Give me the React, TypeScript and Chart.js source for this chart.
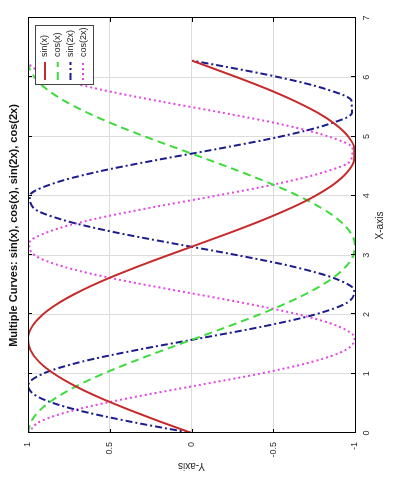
import React, { useEffect, useRef } from "react";
import { Chart, registerables } from "chart.js";

Chart.register(...registerables);

const TITLE = "Multiple Curves: sin(x), cos(x), sin(2x), cos(2x)";
const X_LABEL = "X-axis";
const Y_LABEL = "Y-axis";

const xValues = [
  0, 0.2, 0.4, 0.6, 0.8, 1.0, 1.2, 1.4, 1.6, 1.8, 2.0, 2.2, 2.4, 2.6, 2.8, 3.0,
  3.2, 3.4, 3.6, 3.8, 4.0, 4.2, 4.4, 4.6, 4.8, 5.0, 5.2, 5.4, 5.6, 5.8, 6.0, 6.2, 6.28,
];
const sinX = [
  0, 0.199, 0.389, 0.565, 0.717, 0.841, 0.932, 0.985, 1.0, 0.974, 0.909, 0.808, 0.675, 0.516, 0.335, 0.141,
  -0.058, -0.256, -0.443, -0.612, -0.757, -0.872, -0.952, -0.994, -0.996, -0.959, -0.883, -0.773, -0.631, -0.465, -0.279, -0.083, -0.003,
];
const cosX = [
  1, 0.98, 0.921, 0.825, 0.697, 0.54, 0.362, 0.17, -0.029, -0.227, -0.416, -0.589, -0.737, -0.857, -0.942, -0.99,
  -0.998, -0.967, -0.897, -0.791, -0.654, -0.49, -0.307, -0.112, 0.087, 0.284, 0.469, 0.635, 0.776, 0.886, 0.96, 0.997, 1.0,
];
const sin2X = [
  0, 0.389, 0.717, 0.932, 1.0, 0.909, 0.675, 0.335, -0.058, -0.443, -0.757, -0.952, -0.996, -0.883, -0.631, -0.279,
  0.117, 0.494, 0.794, 0.968, 0.989, 0.855, 0.585, 0.222, -0.175, -0.544, -0.828, -0.981, -0.979, -0.823, -0.537, -0.166, -0.006,
];
const cos2X = [
  1, 0.921, 0.697, 0.362, -0.029, -0.416, -0.737, -0.942, -0.998, -0.897, -0.654, -0.307, 0.087, 0.469, 0.776, 0.96,
  0.993, 0.869, 0.608, 0.251, -0.146, -0.519, -0.811, -0.975, -0.985, -0.839, -0.561, -0.194, 0.203, 0.567, 0.844, 0.986, 1.0,
];
const seriesLabels = ["sin(x)", "cos(x)", "sin(2x)", "cos(2x)"];
const seriesValues = [sinX, cosX, sin2X, cos2X];

const X_MIN = 0, X_MAX = 7, X_STEP = 1;
const Y_MIN = -1, Y_MAX = 1, Y_STEP = 0.5;

const W = 487;
const H = 393;
const FONT = "'Liberation Sans', Arial, Helvetica, sans-serif";

const lineStyles = [
  { color: "#c62a2a", dash: [] as number[], width: 2 },
  { color: "#3ddc3d", dash: [8, 5], width: 2 },
  { color: "#1c1c8c", dash: [7, 3, 2, 3], width: 2 },
  { color: "#e444e4", dash: [2, 3], width: 2 },
];

export default function App() {
  const ref = useRef<HTMLCanvasElement>(null);

  useEffect(() => {
    if (!ref.current) return;

    const framePlugin = {
      id: "frameAndLegend",
      afterDatasetsDraw(chart: any) {
        const ctx = chart.ctx;
        const a = chart.chartArea;
        const xs = chart.scales.x;
        const ys = chart.scales.y;
        ctx.save();
        ctx.strokeStyle = "#000";
        ctx.lineWidth = 1;
        ctx.setLineDash([]);
        ctx.beginPath();
        xs.ticks.forEach((t: any) => {
          const px = Math.round(xs.getPixelForValue(t.value)) + 0.5;
          ctx.moveTo(px, a.bottom);
          ctx.lineTo(px, a.bottom - 4);
          ctx.moveTo(px, a.top);
          ctx.lineTo(px, a.top + 4);
        });
        ys.ticks.forEach((t: any) => {
          const py = Math.round(ys.getPixelForValue(t.value)) + 0.5;
          ctx.moveTo(a.left, py);
          ctx.lineTo(a.left + 4, py);
          ctx.moveTo(a.right, py);
          ctx.lineTo(a.right - 4, py);
        });
        ctx.stroke();
        ctx.strokeRect(Math.round(a.left) + 0.5, Math.round(a.top) + 0.5, Math.round(a.right - a.left), Math.round(a.bottom - a.top));

        const bw = 59, bh = 58;
        const bx = Math.round(a.right) - 8 - bw;
        const by = Math.round(a.top) + 7;
        ctx.fillStyle = "#fff";
        ctx.fillRect(bx, by, bw, bh);
        ctx.strokeStyle = "#444";
        ctx.strokeRect(bx + 0.5, by + 0.5, bw, bh);
        ctx.font = `9px ${FONT}`;
        ctx.textBaseline = "middle";
        ctx.textAlign = "left";
        seriesLabels.forEach((lab, i) => {
          const cy = by + 10 + i * 12.7;
          const st = lineStyles[i];
          ctx.strokeStyle = st.color;
          ctx.lineWidth = st.width;
          ctx.setLineDash(st.dash);
          ctx.beginPath();
          ctx.moveTo(bx + 5, cy);
          ctx.lineTo(bx + 23, cy);
          ctx.stroke();
          ctx.fillStyle = "#222";
          ctx.fillText(lab, bx + 28, cy);
        });
        ctx.restore();
      },
    };

    const chart = new Chart(ref.current, {
      type: "line",
      data: {
        datasets: seriesValues.map((vals, i) => ({
          label: seriesLabels[i],
          data: xValues.map((x, j) => ({ x, y: vals[j] })),
          borderColor: lineStyles[i].color,
          borderWidth: lineStyles[i].width,
          borderDash: lineStyles[i].dash,
          pointRadius: 0,
          fill: false,
          cubicInterpolationMode: "monotone" as const,
        })),
      },
      options: {
        responsive: false,
        animation: false,
        events: [],
        layout: { padding: { left: 0, right: 18, top: 0, bottom: 0 } },
        plugins: {
          legend: { display: false },
          tooltip: { enabled: false },
          title: {
            display: true,
            fullSize: false,
            text: TITLE,
            color: "#111",
            font: { family: FONT, size: 11, weight: "bold" },
            padding: { top: 7, bottom: 7.8 },
          },
        },
        scales: {
          x: {
            type: "linear",
            min: X_MIN,
            max: X_MAX,
            ticks: {
              stepSize: X_STEP,
              color: "#333",
              font: { family: FONT, size: 9 },
              padding: 6,
              maxRotation: 0,
              callback: (v: any) => String(v),
            },
            grid: { color: "#dcdcdc", drawTicks: false },
            border: { display: false },
            title: { display: true, text: X_LABEL, color: "#222", font: { family: FONT, size: 10 }, padding: { top: 7, bottom: 7 } },
            afterFit: (s: any) => { s.height = 38; },
          },
          y: {
            type: "linear",
            min: Y_MIN,
            max: Y_MAX,
            ticks: {
              stepSize: Y_STEP,
              color: "#333",
              font: { family: FONT, size: 9 },
              padding: 9,
              callback: (v: any) => String(v),
            },
            grid: { color: "#dcdcdc", drawTicks: false },
            border: { display: false },
            title: { display: true, text: Y_LABEL, color: "#222", font: { family: FONT, size: 10 }, padding: { top: 15, bottom: 2 } },
            afterFit: (s: any) => { s.width = 54; },
          },
        },
      },
      plugins: [framePlugin],
    });
    return () => chart.destroy();
  }, []);

  return (
    <div
      style={{
        position: "absolute",
        left: 0,
        top: 0,
        width: W,
        height: H,
        background: "#fff",
        transformOrigin: "0 0",
        transform: `translate(0px, ${W}px) rotate(-90deg)`,
      }}
    >
      <canvas ref={ref} width={W} height={H} style={{ display: "block", width: W, height: H }} />
    </div>
  );
}
